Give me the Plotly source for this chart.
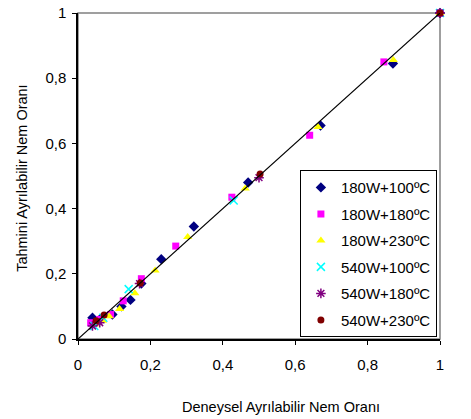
import plotly.graph_objects as go

# Data (Deneysel vs Tahmini)
x_180_100 = [0.04, 0.06, 0.095, 0.12, 0.145, 0.175, 0.23, 0.32, 0.47, 0.67, 0.87, 1.0]
y_180_100 = [0.065, 0.06, 0.075, 0.10, 0.12, 0.17, 0.245, 0.345, 0.48, 0.655, 0.845, 1.0]

x_180_180 = [0.035, 0.06, 0.09, 0.125, 0.175, 0.27, 0.425, 0.64, 0.845, 1.0]
y_180_180 = [0.05, 0.06, 0.075, 0.117, 0.185, 0.285, 0.435, 0.625, 0.85, 1.0]

x_180_230 = [0.05, 0.068, 0.086, 0.115, 0.157, 0.213, 0.303, 0.462, 0.663, 0.871, 1.0]
y_180_230 = [0.045, 0.056, 0.07, 0.092, 0.14, 0.21, 0.313, 0.462, 0.65, 0.856, 1.0]

x_540_100 = [0.045, 0.07, 0.14, 0.43, 1.0]
y_540_100 = [0.04, 0.065, 0.153, 0.425, 1.0]

x_540_180 = [0.04, 0.06, 0.17, 0.50, 1.0]
y_540_180 = [0.04, 0.05, 0.17, 0.495, 1.0]

x_540_230 = [0.05, 0.072, 0.172, 0.503, 1.0]
y_540_230 = [0.056, 0.074, 0.172, 0.506, 1.0]

line_x = [0, 1]
line_y = [0, 1]

tick_vals = [0, 0.2, 0.4, 0.6, 0.8, 1]
tick_text = ["0", "0,2", "0,4", "0,6", "0,8", "1"]

names = ["180W+100ºC", "180W+180ºC", "180W+230ºC", "540W+100ºC", "540W+180ºC", "540W+230ºC"]
x_title = "Deneysel Ayrılabilir Nem Oranı"
y_title = "Tahmini Ayrılabilir Nem Oranı"

fig = go.Figure()

series = [
    (x_180_100, y_180_100, dict(symbol="diamond", size=8, color="#000080")),
    (x_180_180, y_180_180, dict(symbol="square", size=7, color="#FF00FF")),
    (x_180_230, y_180_230, dict(symbol="triangle-up", size=8, color="#FFFF00")),
    (x_540_100, y_540_100, dict(symbol="x-thin-open", size=8, color="#00FFFF", line=dict(color="#00FFFF", width=1.5))),
    (x_540_180, y_540_180, dict(symbol="asterisk-open", size=8, color="#800080", line=dict(color="#800080", width=1.5))),
    (x_540_230, y_540_230, dict(symbol="circle", size=7, color="#800000")),
]

for i, ((xs, ys, mk), nm) in enumerate(zip(series, names)):
    fig.add_trace(go.Scatter(x=xs, y=ys, mode="markers", name=nm, marker=mk,
                             legendgroup="g%d" % i, cliponaxis=False))

fig.add_trace(go.Scatter(x=line_x, y=line_y, mode="lines", line=dict(color="black", width=1.2),
                         showlegend=False, hoverinfo="skip", cliponaxis=False))

fig.update_layout(
    width=471, height=419,
    margin=dict(l=78, r=31, t=13, b=80),
    paper_bgcolor="white", plot_bgcolor="white",
    font=dict(family="Liberation Sans, Arial, sans-serif", color="black", size=15),
    showlegend=True,
    legend=dict(x=0.613, y=0.518, xanchor="left", yanchor="top",
                bordercolor="black", borderwidth=1, bgcolor="white",
                font=dict(size=15), tracegroupgap=4, itemwidth=30),
    shapes=[dict(type="rect", xref="paper", yref="paper", x0=0, y0=0, x1=1, y1=1,
                 line=dict(color="#808080", width=1.5), layer="below")],
    annotations=[
        dict(text=x_title, xref="paper", yref="paper", x=0.561, y=-0.209,
             xanchor="center", yanchor="middle", showarrow=False, font=dict(size=14.5)),
        dict(text=y_title, xref="paper", yref="paper", x=-0.155, y=0.494, textangle=-90,
             xanchor="center", yanchor="middle", showarrow=False, font=dict(size=14.5)),
    ],
)

fig.update_xaxes(range=[0, 1], tickvals=tick_vals, ticktext=tick_text,
                 ticks="outside", ticklen=4, tickcolor="black",
                 showline=True, linecolor="black", linewidth=1.5,
                 showgrid=False, zeroline=False, automargin=False,
                 tickfont=dict(size=15), ticklabelstandoff=7)
fig.update_yaxes(range=[0, 1], tickvals=tick_vals, ticktext=tick_text,
                 ticks="outside", ticklen=4, tickcolor="black",
                 showline=True, linecolor="black", linewidth=1.5,
                 showgrid=False, zeroline=False, automargin=False,
                 tickfont=dict(size=15), ticklabelstandoff=3)

fig.write_html("out.html")
